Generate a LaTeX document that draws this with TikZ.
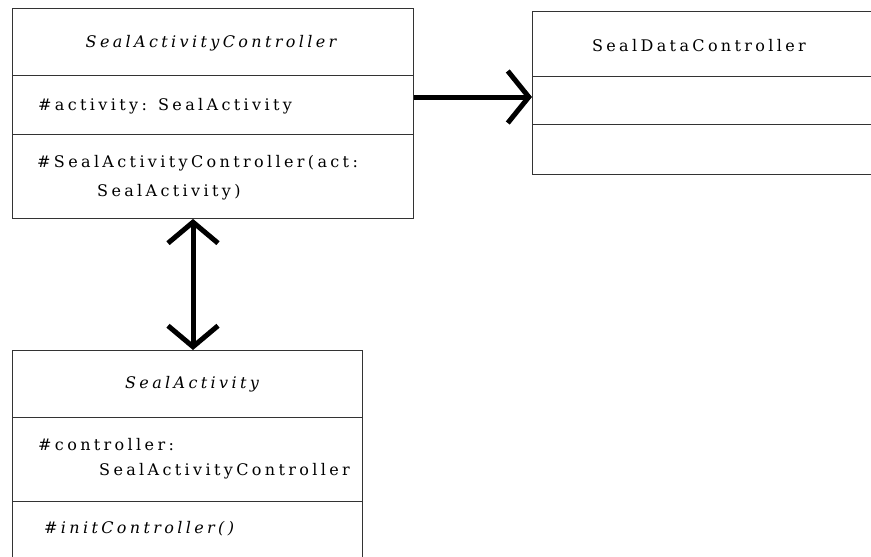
\documentclass[tikz,border=0pt]{standalone}
\usepackage{fontspec}
\setmainfont{DejaVu Serif}[LetterSpace=21]
\usetikzlibrary{arrows.meta}
\tikzset{
  box/.style={draw=black!80, line width=0.9pt, rectangle, inner sep=0pt, anchor=north west},
  divider/.style={draw=black!80, line width=0.9pt},
  txt/.style={inner sep=0pt, anchor=base west, font=\fontsize{16pt}{19pt}\selectfont},
  ttl/.style={inner sep=0pt, anchor=base, font=\fontsize{16pt}{19pt}\selectfont},
  assoc/.style={line width=5pt, -{Straight Barb[length=21pt,width=52pt]}},
  biassoc/.style={line width=5pt, {Straight Barb[length=21pt,width=50pt]}-{Straight Barb[length=21pt,width=50pt]}}
}
\begin{document}
\begin{tikzpicture}[x=1pt,y=-1pt]
\clip (0,0) rectangle (871,557);
\fill[white] (0,0) rectangle (871,557);
% SealActivityController
\node[box, minimum width=401pt, minimum height=210pt] (b1) at (12,8) {};
\draw[divider] ([yshift=-67pt]b1.north west) -- ([yshift=-67pt]b1.north east);
\draw[divider] ([yshift=-126pt]b1.north west) -- ([yshift=-126pt]b1.north east);
\node[ttl] (t1) at (211,47) {\itshape SealActivityController};
\node[txt] (a1) at (38,110) {\#activity: SealActivity};
\node[txt] (m1) at (37,167) {\#SealActivityController(act:};
\node[txt] (m1b) at (97,196) {SealActivity)};
% SealDataController
\node[box, minimum width=360pt, minimum height=163pt] (b2) at (532,11) {};
\draw[divider] ([yshift=-65pt]b2.north west) -- ([yshift=-65pt]b2.north east);
\draw[divider] ([yshift=-113pt]b2.north west) -- ([yshift=-113pt]b2.north east);
\node[ttl] (t2) at (699,51) {SealDataController};
% SealActivity
\node[box, minimum width=350pt, minimum height=220pt] (b3) at (12,350) {};
\draw[divider] ([yshift=-67pt]b3.north west) -- ([yshift=-67pt]b3.north east);
\draw[divider] ([yshift=-151pt]b3.north west) -- ([yshift=-151pt]b3.north east);
\node[ttl] (t3) at (192,388) {\itshape SealActivity};
\node[txt] (a3) at (38,450) {\#controller:};
\node[txt] (a3b) at (99,475) {SealActivityController};
\node[txt] (m3) at (44,533) {\itshape \#initController()};
% connectors
\coordinate (h) at (0,97);
\coordinate (v) at (193,0);
\draw[assoc] (b1.east |- h) -- (b2.west |- h);
\draw[biassoc] (b1.south -| v) -- (b3.north -| v);
\end{tikzpicture}
\end{document}
